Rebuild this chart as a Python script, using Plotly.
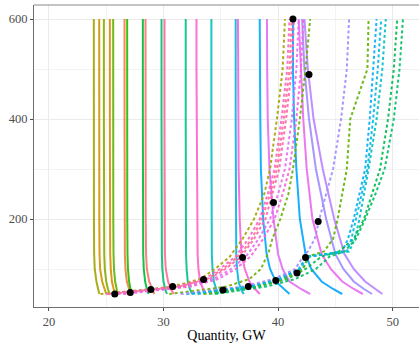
import math
import plotly.graph_objects as go

# ---------------- data ----------------
demand_prices = [50, 60, 75, 100, 130, 200, 300, 400, 500, 600]
demand_hues = [87, 60, 100, 50, 115, 30, 125, 135, 15, 155, 355, 165, 330, 190, 215, 320, 240, 300, 245, 305, 280, 270]
demand_q = [
    [24.4, 24.3, 24.15, 24.0, 23.95, 23.93, 23.92, 23.92, 23.92, 23.92],
    [25.0, 24.85, 24.65, 24.47, 24.42, 24.4, 24.39, 24.39, 24.39, 24.39],
    [25.3, 25.15, 25.0, 24.88, 24.83, 24.81, 24.8, 24.8, 24.8, 24.8],
    [25.8, 25.65, 25.5, 25.4, 25.35, 25.33, 25.32, 25.32, 25.32, 25.32],
    [26.0, 25.9, 25.78, 25.68, 25.64, 25.62, 25.61, 25.61, 25.61, 25.61],
    [27.2, 27.0, 26.8, 26.68, 26.63, 26.61, 26.6, 26.6, 26.6, 26.6],
    [27.2, 27.1, 27.0, 26.9, 26.86, 26.84, 26.83, 26.83, 26.83, 26.83],
    [28.7, 28.55, 28.4, 28.28, 28.23, 28.21, 28.2, 28.2, 28.2, 28.2],
    [29.2, 29.0, 28.75, 28.55, 28.48, 28.45, 28.44, 28.43, 28.43, 28.43],
    [30.3, 30.15, 30.0, 29.9, 29.86, 29.84, 29.83, 29.83, 29.83, 29.83],
    [30.9, 30.65, 30.4, 30.2, 30.13, 30.1, 30.1, 30.09, 30.09, 30.09],
    [32.5, 32.3, 32.12, 32.02, 31.97, 31.95, 31.94, 31.94, 31.94, 31.94],
    [33.7, 33.45, 33.2, 33.05, 32.98, 32.95, 32.93, 32.92, 32.88, 32.88],
    [34.8, 34.6, 34.4, 34.28, 34.22, 34.2, 34.19, 34.18, 34.18, 34.18],
    [37.0, 36.75, 36.55, 36.42, 36.35, 36.32, 36.31, 36.3, 36.3, 36.3],
    [38.4, 38.0, 37.5, 37.1, 36.8, 36.65, 36.56, 36.52, 36.5, 36.5],
    [41.0, 40.5, 39.8, 39.3, 39.0, 38.7, 38.5, 38.45, 38.4, 38.4],
    [42.8, 42.0, 41.0, 40.4, 40.0, 39.6, 39.25, 39.1, 39.05, 39.03],
    [45.6, 44.8, 43.8, 42.9, 42.4, 41.9, 41.6, 41.4, 41.3, 41.3],
    [47.4, 46.6, 45.6, 44.6, 43.8, 43.0, 42.5, 42.2, 42.0, 41.8],
    [49.1, 48.5, 47.6, 46.6, 45.8, 44.9, 43.9, 43.1, 42.6, 42.3],
    [48.2, 47.5, 46.6, 45.7, 45.0, 44.2, 43.3, 42.7, 42.3, 42.1],
]

supply_prices = [50, 55, 60, 65, 80, 100, 125, 135, 160, 200, 250, 300, 400, 500, 600]
supply_hues = [85, 330, 345, 300, 320, 0, 110, 235, 195, 140, 115, 270, 150, 215]
supply_q = [
    [24.5, 27.0, 29.0, 30.8, 33.2, 34.5, 35.8, 36.1, 36.9, 37.9, 38.8, 39.3, 39.9, 40.4, 40.6],
    [25.0, 27.3, 29.3, 31.2, 33.6, 34.9, 36.3, 36.6, 37.4, 38.4, 39.1, 39.7, 40.3, 40.8, 41.0],
    [25.5, 27.8, 29.7, 31.6, 34.0, 35.4, 36.8, 37.1, 37.9, 38.9, 39.5, 40.1, 40.7, 41.2, 41.4],
    [26.0, 28.2, 30.1, 32.0, 34.4, 35.9, 37.2, 37.5, 38.3, 39.3, 40.0, 40.6, 41.2, 41.6, 41.8],
    [26.5, 28.6, 30.5, 32.4, 34.8, 36.3, 37.6, 37.9, 38.7, 39.7, 40.4, 41.0, 41.6, 42.0, 42.2],
    [25.2, 27.5, 29.5, 31.4, 33.8, 35.2, 36.5, 36.9, 37.7, 38.6, 39.3, 39.9, 40.5, 41.0, 41.2],
    [30.5, 32.5, 34.0, 35.5, 37.5, 38.5, 39.0, 39.2, 39.5, 40.2, 40.9, 41.3, 41.9, 42.4, 42.8],
    [32.0, 33.8, 35.8, 37.5, 40.0, 41.8, 42.5, 45.6, 46.1, 46.6, 47.1, 47.6, 48.0, 48.3, 48.6],
    [33.0, 34.5, 36.3, 37.9, 40.4, 42.1, 42.8, 46.2, 46.7, 47.1, 47.5, 47.9, 48.6, 49.1, 49.4],
    [34.0, 35.3, 36.8, 38.3, 40.8, 42.4, 43.8, 45.3, 46.6, 47.5, 48.2, 48.9, 49.6, 50.1, 50.4],
    [33.5, 35.0, 36.5, 38.0, 40.5, 42.2, 42.6, 44.0, 44.8, 45.2, 45.6, 46.0, 46.3, 47.8, 47.9],
    [31.5, 33.3, 35.3, 37.0, 39.6, 41.5, 42.2, 42.6, 43.2, 43.6, 44.2, 44.8, 45.5, 46.0, 46.2],
    [34.5, 36.0, 37.5, 39.0, 41.5, 43.3, 44.5, 45.8, 46.8, 47.6, 48.5, 49.3, 50.1, 50.6, 50.9],
    [32.5, 34.2, 36.0, 37.7, 40.2, 41.9, 42.6, 46.0, 46.4, 46.8, 47.3, 47.8, 48.3, 48.7, 49.0],
]

eq_q = [25.75, 27.1, 28.9, 30.8, 33.5, 35.2, 37.4, 36.9, 39.8, 41.65, 42.4, 39.6, 43.5, 41.3, 42.7]
eq_p = [50, 53, 59, 65, 79, 58, 65, 123, 77, 92, 123, 233, 195, 600, 489]

x_ticks = [20, 30, 40, 50]
y_ticks = [200, 400, 600]


# ---------------- colours (ggplot2 hue palette, HCL l=65 c=100) ----------------
def hcl_hex(h, c=100.0, l=65.0):
    xn, yn, zn = 95.047, 100.0, 108.883
    un = 4 * xn / (xn + 15 * yn + 3 * zn)
    vn = 9 * yn / (xn + 15 * yn + 3 * zn)
    hr = math.radians(h)
    u, v = c * math.cos(hr), c * math.sin(hr)
    Y = yn * ((l + 16) / 116) ** 3
    up = u / (13 * l) + un
    vp = v / (13 * l) + vn
    X = Y * 9 * up / (4 * vp)
    Z = Y * (12 - 3 * up - 20 * vp) / (4 * vp)
    X, Y, Z = X / 100, Y / 100, Z / 100
    r = 3.2404542 * X - 1.5371385 * Y - 0.4985314 * Z
    g = -0.9692660 * X + 1.8760108 * Y + 0.0415560 * Z
    b = 0.0556434 * X - 0.2040259 * Y + 1.0572252 * Z

    def gam(t):
        t = 12.92 * t if t <= 0.0031308 else 1.055 * t ** (1 / 2.4) - 0.055
        return max(0, min(255, round(t * 255)))
    return "#%02X%02X%02X" % (gam(r), gam(g), gam(b))


fig = go.Figure()

for q, h in zip(demand_q, demand_hues):
    fig.add_trace(go.Scatter(x=q, y=demand_prices, mode="lines", opacity=0.9,
                             line=dict(color=hcl_hex(h), width=2),
                             showlegend=False, hoverinfo="skip"))

for q, h in zip(supply_q, supply_hues):
    fig.add_trace(go.Scatter(x=q, y=supply_prices, mode="lines", opacity=0.9,
                             line=dict(color=hcl_hex(h), width=2, dash="3px,2.5px"),
                             showlegend=False, hoverinfo="skip"))

fig.add_trace(go.Scatter(x=eq_q, y=eq_p, mode="markers",
                         marker=dict(color="black", size=7),
                         showlegend=False, hoverinfo="skip"))

axis_common = dict(
    showgrid=True, gridcolor="#EBEBEB", gridwidth=1,
    zeroline=False, showline=True, linecolor="#6E6E6E", linewidth=1.2,
    ticks="outside", ticklen=3, tickwidth=1, tickcolor="#4D4D4D",
    tickfont=dict(family="Liberation Serif", size=12.5, color="#4D4D4D"),
)

fig.update_xaxes(range=[18.7, 52.3], tickvals=x_ticks,
                 minor=dict(dtick=5, tick0=0, showgrid=True, gridcolor="#F3F3F3", gridwidth=0.6),
                 title=dict(text="Quantity, GW", font=dict(family="Liberation Serif", size=14, color="black"), standoff=4),
                 **axis_common)
fig.update_yaxes(range=[24, 628], tickvals=y_ticks,
                 minor=dict(dtick=100, tick0=0, showgrid=True, gridcolor="#F3F3F3", gridwidth=0.6),
                 **axis_common)

fig.add_shape(type="line", xref="paper", yref="paper", x0=0, x1=1, y0=1, y1=1,
              line=dict(color="#8A8A8A", width=1.2))

fig.update_layout(width=419, height=343, margin=dict(l=34, r=0, t=5, b=36),
                  plot_bgcolor="white", paper_bgcolor="white")

fig.write_html("out.html")
